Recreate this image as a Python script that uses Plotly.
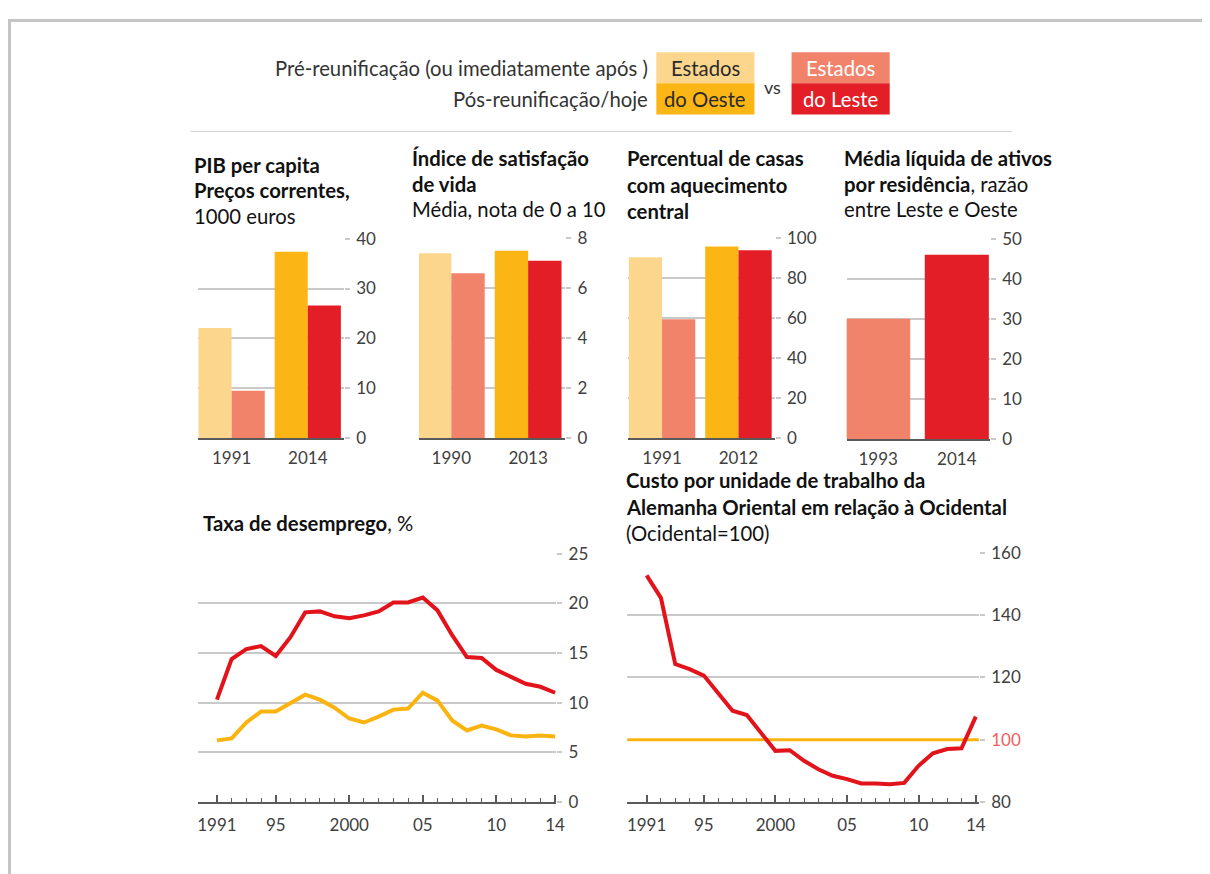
import plotly.graph_objects as go

# Figure size, and the measured placement of the figure in the photographed window
W, H = 1212, 878
SX, BX = 0.991, 9.7     # window_x = SX * figure_x + BX
SY, BY = 0.974, 19.8    # window_y = SY * figure_y + BY

# ---------------- colours ----------------
LIGHT_YELLOW = "#FDD68E"
DARK_YELLOW = "#FBB615"
SALMON = "#F2836B"
RED = "#E31E26"
LINE_RED = "#E2131B"
LINE_YELLOW = "#FBB40F"
GRID = "#C9C9C9"
AXIS = "#5A5A5A"
TICK_TEXT = "#404040"
TITLE = "#111111"
FONT = "Lato"

# ---------------- data ----------------
gdp_categories = ["1991", "2014"]
gdp_west = [22.1, 37.4]
gdp_east = [9.5, 26.6]

sat_categories = ["1990", "2013"]
sat_west = [7.4, 7.5]
sat_east = [6.6, 7.1]

heat_categories = ["1991", "2012"]
heat_west = [90.5, 95.8]
heat_east = [59.4, 94.0]

assets_categories = ["1993", "2014"]
assets_east_ratio = [30.0, 46.0]

years = list(range(1991, 2015))
unemp_east = [10.3, 14.4, 15.4, 15.7, 14.7, 16.6, 19.1, 19.2, 18.7, 18.5, 18.8, 19.2,
              20.1, 20.1, 20.6, 19.3, 16.8, 14.6, 14.5, 13.3, 12.6, 11.9, 11.6, 11.0]
unemp_west = [6.2, 6.4, 8.0, 9.1, 9.1, 9.9, 10.8, 10.3, 9.5, 8.4, 8.0, 8.6,
              9.3, 9.4, 11.0, 10.2, 8.2, 7.2, 7.7, 7.3, 6.7, 6.6, 6.7, 6.6]
labour_cost_east = [152.8, 145.6, 124.3, 122.7, 120.6, 115.2, 109.3, 107.9, 102.3, 96.4,
                    96.6, 93.2, 90.5, 88.4, 87.3, 85.9, 85.9, 85.7, 86.1, 91.6, 95.6,
                    97.0, 97.2, 107.4]
labour_cost_west_base = 100

line_tick_years = [1991, 1995, 2000, 2005, 2010, 2014]
line_tick_text = ["1991", "95", "2000", "05", "10", "14"]


def fx(x):
    """window x -> figure pixel x"""
    return (x - BX) / SX


def fy(y):
    return (y - BY) / SY


def px(x):
    return min(max(fx(x) / W, 0), 1)


def py(y):
    return min(max(1 - fy(y) / H, 0), 1)


fig = go.Figure()
layout = {}
annotations = []
shapes = []
TICK_FONT = dict(family=FONT, size=17, color=TICK_TEXT)

# ---------------- bar charts ----------------
BW = 0.435
bar_specs = [
    # (n, cats, west, east, ymax, dtick, left, right, top_px, bottom_px, c0, c1)
    (1, gdp_categories, gdp_west, gdp_east, 40, 10, 199, 345, 239, 438, 233, 309),
    (2, sat_categories, sat_west, sat_east, 8, 2, 420, 566, 238.5, 438, 452.3, 529),
    (3, heat_categories, heat_west, heat_east, 100, 20, 629, 775, 238.5, 438, 662.7, 739),
    (4, assets_categories, None, assets_east_ratio, 50, 10, 847, 990, 239, 439, 878.5, 957),
]

for n, cats, west, east, ymax, dtick, l, r, t, b, c0, c1 in bar_specs:
    xa = "x" if n == 1 else f"x{n}"
    ya = "y" if n == 1 else f"y{n}"
    unit = c1 - c0
    xr = [(l - c0) / unit, 1 + (r - c1) / unit]
    if west is not None:
        fig.add_trace(go.Bar(x=[0, 1], y=west, width=[BW, BW], offset=-BW,
                             marker=dict(color=[LIGHT_YELLOW, DARK_YELLOW], line=dict(width=0)),
                             xaxis=xa, yaxis=ya, showlegend=False, hoverinfo="y"))
        fig.add_trace(go.Bar(x=[0, 1], y=east, width=[BW, BW], offset=0,
                             marker=dict(color=[SALMON, RED], line=dict(width=0)),
                             xaxis=xa, yaxis=ya, showlegend=False, hoverinfo="y"))
    else:
        w4 = 0.815
        fig.add_trace(go.Bar(x=[0, 1], y=east, width=[w4, w4], offset=-w4 / 2,
                             marker=dict(color=[SALMON, RED], line=dict(width=0)),
                             xaxis=xa, yaxis=ya, showlegend=False, hoverinfo="y"))
    xkey = "xaxis" if n == 1 else f"xaxis{n}"
    ykey = "yaxis" if n == 1 else f"yaxis{n}"
    layout[xkey] = dict(domain=[px(l), px(r)], range=xr, anchor=ya,
                        tickmode="array", tickvals=[0, 1], ticktext=cats,
                        showgrid=False, zeroline=False, showline=True,
                        linecolor=AXIS, linewidth=1.5, ticks="",
                        ticklabelstandoff=4, tickfont=TICK_FONT, fixedrange=True)
    layout[ykey] = dict(domain=[py(b), py(t)], range=[0, ymax], anchor=xa,
                        side="right", dtick=dtick, tick0=0,
                        showgrid=True, gridcolor=GRID, gridwidth=1.5,
                        zeroline=False, showline=False,
                        ticks="outside", ticklen=5, tickcolor=GRID, tickwidth=1.5,
                        ticklabelstandoff=3, tickfont=TICK_FONT, fixedrange=True)

# ---------------- line chart: unemployment ----------------
u_l, u_r, u_t, u_b = 199, 557, 553.5, 801
u_x1991, u_per = 218.3, 14.68
fig.add_trace(go.Scatter(x=years, y=unemp_east, mode="lines",
                         line=dict(color=LINE_RED, width=4),
                         xaxis="x5", yaxis="y5", showlegend=False))
fig.add_trace(go.Scatter(x=years, y=unemp_west, mode="lines",
                         line=dict(color=LINE_YELLOW, width=4),
                         xaxis="x5", yaxis="y5", showlegend=False))

# ---------------- line chart: unit labour cost ----------------
c_l, c_r, c_t, c_b = 628, 979, 552.7, 801
c_x1991, c_per = 647.3, 14.29
c_range = [1991 - (c_x1991 - c_l) / c_per, 2014 + (c_r - (c_x1991 + 23 * c_per)) / c_per]
# West = 100 reference line spanning the whole axis range
fig.add_trace(go.Scatter(x=c_range, y=[labour_cost_west_base] * 2, mode="lines",
                         line=dict(color=LINE_YELLOW, width=3),
                         xaxis="x6", yaxis="y6", showlegend=False, hoverinfo="skip"))
fig.add_trace(go.Scatter(x=years, y=labour_cost_east, mode="lines",
                         line=dict(color=LINE_RED, width=4),
                         xaxis="x6", yaxis="y6", showlegend=False))

for n, l, r, t, b, x1991, per, yr, dt, tv, tt in [
    (5, u_l, u_r, u_t, u_b, u_x1991, u_per, [0, 25], 5, None, None),
    (6, c_l, c_r, c_t, c_b, c_x1991, c_per, [80, 160], 20,
     [80, 100, 120, 140, 160],
     ["80", '<span style="color:#F0605A">100</span>', "120", "140", "160"]),
]:
    xr = [1991 - (x1991 - l) / per, 2014 + (r - (x1991 + 23 * per)) / per]
    layout[f"xaxis{n}"] = dict(domain=[px(l), px(r)], range=xr, anchor=f"y{n}",
                               tickmode="array", tickvals=line_tick_years,
                               ticktext=line_tick_text,
                               ticks="inside", ticklen=7, tickwidth=1.5, tickcolor=AXIS,
                               minor=dict(ticks="inside", ticklen=4, tickwidth=1.2,
                                          tickcolor=AXIS, tickmode="array",
                                          tickvals=years, showgrid=False),
                               showgrid=False, zeroline=False, showline=True,
                               linecolor=AXIS, linewidth=1.5,
                               ticklabelstandoff=7, tickfont=TICK_FONT,
                               fixedrange=True)
    ya = dict(domain=[py(b), py(t)], range=yr, anchor=f"x{n}", side="right",
              showgrid=True, gridcolor=GRID, gridwidth=1.5, zeroline=False,
              showline=False, ticks="outside", ticklen=5, tickcolor=GRID,
              tickwidth=1.5, ticklabelstandoff=3, tickfont=TICK_FONT, fixedrange=True)
    if tv is None:
        ya.update(dtick=dt, tick0=0)
    else:
        ya.update(tickmode="array", tickvals=tv, ticktext=tt)
    layout[f"yaxis{n}"] = ya


# ---------------- titles ----------------
def txt(x, y, text, size=20.3, anchor="left", color=TITLE, family=FONT):
    annotations.append(dict(x=px(x), y=py(y), xref="paper", yref="paper",
                            text=text, showarrow=False, xanchor=anchor,
                            yanchor="middle", borderpad=0,
                            font=dict(family=family, size=size, color=color)))


titles = [
    (194, 165, "<b>PIB per capita</b>"),
    (194, 190, "<b>Preços correntes,</b>"),
    (194, 216, "1000 euros"),
    (412, 159, "<b>Índice de satisfação</b>"),
    (412, 184, "<b>de vida</b>"),
    (412, 209, "Média, nota de 0 a 10"),
    (627, 159, "<b>Percentual de casas</b>"),
    (627, 185, "<b>com aquecimento</b>"),
    (627, 211, "<b>central</b>"),
    (843, 159, "<b>Média líquida de ativos</b>"),
    (843, 184, "<b>por residência</b>, razão"),
    (843, 209, "entre Leste e Oeste"),
    (203, 523, "<b>Taxa de desemprego</b>, %"),
    (626, 480, "<b>Custo por unidade de trabalho da</b>"),
    (626, 507, "<b>Alemanha Oriental em relação à Ocidental</b>"),
    (626, 533, "(Ocidental=100)"),
]
for x, y, t in titles:
    txt(x, y, t)

# ---------------- key ----------------
LEG_FONT = "Lato"
txt(650, 69, "Pré-reunificação (ou imediatamente após )", size=20.3, anchor="right",
    color="#333333", family=LEG_FONT)
txt(650, 100, "Pós-reunificação/hoje", size=20.3, anchor="right",
    color="#333333", family=LEG_FONT)
for (x0, x1, y0, y1, col) in [(657, 755, 53, 84, LIGHT_YELLOW), (657, 755, 84, 115, DARK_YELLOW),
                              (792, 890, 53, 84, SALMON), (792, 890, 84, 115, RED)]:
    shapes.append(dict(type="rect", xref="paper", yref="paper",
                       x0=px(x0), x1=px(x1), y0=py(y1), y1=py(y0),
                       fillcolor=col, line=dict(width=0), layer="below"))
txt(706, 69, "Estados", size=20.3, anchor="center", color="#2A2A2A", family=LEG_FONT)
txt(706, 100, "do Oeste", size=20.3, anchor="center", color="#2A2A2A", family=LEG_FONT)
txt(841, 69, "Estados", size=20.3, anchor="center", color="#FFFFFF", family=LEG_FONT)
txt(841, 100, "do Leste", size=20.3, anchor="center", color="#FFFFFF", family=LEG_FONT)
txt(773, 88, "vs", size=18, anchor="center", color="#333333", family=LEG_FONT)

# separator
shapes.append(dict(type="line", xref="paper", yref="paper",
                   x0=px(192), x1=px(1012), y0=py(132), y1=py(132),
                   line=dict(color="#D0D0D0", width=1)))
# frame (top and left edges, as close to the window edge as the figure allows)
FRAME = "#C4C4C4"
shapes.append(dict(type="line", xref="paper", yref="paper", x0=0, x1=1,
                   y0=1 - 1.5 / H, y1=1 - 1.5 / H, line=dict(color=FRAME, width=3)))
shapes.append(dict(type="line", xref="paper", yref="paper", x0=1.5 / W, x1=1.5 / W,
                   y0=1, y1=0, line=dict(color=FRAME, width=3)))

fig.update_layout(width=W, height=H, margin=dict(l=0, r=0, t=0, b=0),
                  paper_bgcolor="white", plot_bgcolor="white",
                  barmode="overlay", showlegend=False,
                  annotations=annotations, shapes=shapes,
                  font=dict(family=FONT), **layout)

fig.write_html("out.html")
